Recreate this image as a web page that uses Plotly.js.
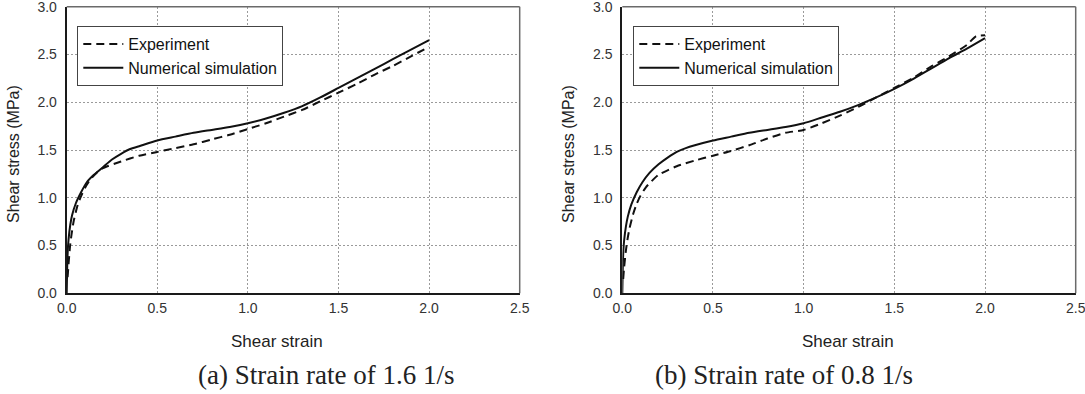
<!DOCTYPE html>
<html>
<head>
<meta charset="utf-8">
<script src="https://cdn.plot.ly/plotly-3.0.1.min.js"></script>
<style>html,body{margin:0;padding:0;background:#fff;}#chart{width:1085px;height:394px;}</style>
</head>
<body>
<div id="chart"></div>
<script>
// (a) Strain rate of 1.6 1/s
const strainSimA = [0, 0.003, 0.006, 0.01, 0.02, 0.03, 0.05, 0.08, 0.11, 0.15, 0.2, 0.25, 0.3, 0.35, 0.4, 0.5, 0.6, 0.7, 0.8, 0.9, 1.0, 1.1, 1.2, 1.3, 1.4, 1.5, 1.6, 1.7, 1.8, 1.9, 2.0];
const stressSimA = [0, 0.3, 0.45, 0.56, 0.72, 0.82, 0.94, 1.06, 1.16, 1.24, 1.32, 1.4, 1.46, 1.51, 1.54, 1.6, 1.64, 1.68, 1.71, 1.74, 1.78, 1.83, 1.89, 1.96, 2.05, 2.15, 2.25, 2.35, 2.45, 2.55, 2.65];
const strainExpA = [0.005, 0.01, 0.015, 0.02, 0.03, 0.04, 0.06, 0.08, 0.1, 0.13, 0.17, 0.2, 0.3, 0.4, 0.5, 0.6, 0.7, 0.8, 0.9, 1.0, 1.1, 1.2, 1.3, 1.4, 1.5, 1.6, 1.7, 1.8, 1.9, 2.0];
const stressExpA = [0.17, 0.3, 0.42, 0.52, 0.66, 0.77, 0.92, 1.02, 1.1, 1.19, 1.27, 1.31, 1.38, 1.44, 1.48, 1.52, 1.56, 1.61, 1.66, 1.72, 1.78, 1.85, 1.92, 2.01, 2.1, 2.19, 2.29, 2.38, 2.48, 2.58];
// (b) Strain rate of 0.8 1/s
const strainSimB = [0, 0.003, 0.006, 0.01, 0.02, 0.03, 0.05, 0.08, 0.11, 0.15, 0.2, 0.25, 0.3, 0.35, 0.4, 0.5, 0.6, 0.7, 0.8, 0.9, 1.0, 1.1, 1.2, 1.3, 1.4, 1.5, 1.6, 1.7, 1.8, 1.9, 2.0];
const stressSimB = [0, 0.3, 0.45, 0.55, 0.7, 0.8, 0.93, 1.06, 1.16, 1.26, 1.35, 1.42, 1.48, 1.52, 1.55, 1.6, 1.64, 1.68, 1.71, 1.74, 1.78, 1.84, 1.9, 1.97, 2.05, 2.14, 2.24, 2.35, 2.46, 2.56, 2.67];
const strainExpB = [0.005, 0.01, 0.02, 0.03, 0.04, 0.06, 0.08, 0.1, 0.13, 0.17, 0.2, 0.3, 0.4, 0.5, 0.6, 0.7, 0.8, 0.9, 1.0, 1.1, 1.2, 1.3, 1.4, 1.5, 1.6, 1.7, 1.8, 1.9, 1.95, 2.0];
const stressExpB = [0.15, 0.27, 0.45, 0.58, 0.68, 0.83, 0.94, 1.02, 1.11, 1.19, 1.24, 1.33, 1.39, 1.44, 1.49, 1.55, 1.62, 1.68, 1.71, 1.78, 1.86, 1.95, 2.05, 2.15, 2.25, 2.37, 2.48, 2.6, 2.69, 2.7];

const seriesNames = ["Experiment", "Numerical simulation"];
const tickValsX = [0, 0.5, 1.0, 1.5, 2.0, 2.5];
const tickValsY = [0, 0.5, 1.0, 1.5, 2.0, 2.5, 3.0];
const xTitle = "Shear strain";
const yTitle = "Shear stress (MPa)";
const captions = ["(a) Strain rate of 1.6 1/s", "(b) Strain rate of 0.8 1/s"];

const W = 1085, H = 394;
const SANS = "'Liberation Sans', Arial, sans-serif";
const SERIF = "'Liberation Serif', 'Times New Roman', serif";

const expLine = {color: '#111', width: 2, dash: '8px,5px', shape: 'spline', smoothing: 0.6};
const simLine = {color: '#111', width: 2, shape: 'spline', smoothing: 0.6};

const traces = [
  {x: strainExpA, y: stressExpA, name: seriesNames[0], mode: 'lines', line: expLine, xaxis: 'x', yaxis: 'y', legend: 'legend'},
  {x: strainSimA, y: stressSimA, name: seriesNames[1], mode: 'lines', line: simLine, xaxis: 'x', yaxis: 'y', legend: 'legend'},
  {x: strainExpB, y: stressExpB, name: seriesNames[0], mode: 'lines', line: expLine, xaxis: 'x2', yaxis: 'y2', legend: 'legend2'},
  {x: strainSimB, y: stressSimB, name: seriesNames[1], mode: 'lines', line: simLine, xaxis: 'x2', yaxis: 'y2', legend: 'legend2'}
];

function xax(domain, anchor) {
  return {
    domain: domain, anchor: anchor, range: [0, 2.5], tickvals: tickValsX, tickformat: '.1f',
    showgrid: true, gridcolor: '#9a9a9a', griddash: '2px,2px', gridwidth: 1,
    showline: true, linecolor: '#1a1a1a', linewidth: 2, zeroline: false,
    ticks: '', ticklabelstandoff: 1, ticklabeloverflow: 'allow',
    tickfont: {family: SANS, size: 14, color: '#333'}, fixedrange: true
  };
}
function yax(domain, anchor) {
  return {
    domain: domain, anchor: anchor, range: [0, 3], tickvals: tickValsY, tickformat: '.1f',
    showgrid: true, gridcolor: '#9a9a9a', griddash: '2px,2px', gridwidth: 1,
    showline: true, linecolor: '#1a1a1a', linewidth: 2, zeroline: false,
    ticks: '', ticklabelstandoff: 5, ticklabeloverflow: 'allow',
    tickfont: {family: SANS, size: 14, color: '#333'}, fixedrange: true
  };
}
const yDom = [(H - 293.3) / H, (H - 6.7) / H];
const border = (xr, yr) => [
  {type: 'line', xref: xr + ' domain', yref: yr + ' domain', x0: 0, x1: 1, y0: 1, y1: 1, line: {color: '#6a6a6a', width: 1.5}},
  {type: 'line', xref: xr + ' domain', yref: yr + ' domain', x0: 1, x1: 1, y0: 0, y1: 1, line: {color: '#6a6a6a', width: 1.5}}
];
const legendStyle = (xpx) => ({
  x: xpx / W, y: 1 - 26 / H, xanchor: 'left', yanchor: 'top',
  bordercolor: '#444', borderwidth: 1, bgcolor: '#fff',
  font: {family: SANS, size: 16, color: '#111'}, itemwidth: 40, tracegroupgap: 0
});
const ann = (text, xpx, ypx, size, family, angle) => ({
  text: text, xref: 'paper', yref: 'paper', x: xpx / W, y: 1 - ypx / H,
  xanchor: 'center', yanchor: 'middle', showarrow: false, textangle: angle || 0,
  font: {family: family, size: size, color: '#222'}
});

const layout = {
  width: W, height: H, margin: {l: 0, r: 0, t: 0, b: 0},
  paper_bgcolor: '#fff', plot_bgcolor: '#fff',
  xaxis: xax([66.7 / W, 519.7 / W], 'y'),
  yaxis: yax(yDom, 'x'),
  xaxis2: xax([622.3 / W, 1075.7 / W], 'y2'),
  yaxis2: yax(yDom, 'x2'),
  legend: legendStyle(77.3),
  legend2: legendStyle(633.3),
  shapes: border('x', 'y').concat(border('x2', 'y2')),
  annotations: [
    ann(xTitle, 277, 341, 17, SANS),
    ann(xTitle, 848, 341, 17, SANS),
    ann(yTitle, 14, 154, 16, SANS, -90),
    ann(yTitle, 569, 154, 16, SANS, -90),
    ann(captions[0], 326, 375, 27, SERIF),
    ann(captions[1], 784, 375, 27, SERIF)
  ],
  showlegend: true
};

Plotly.newPlot('chart', traces, layout, {displayModeBar: false, staticPlot: true});
</script>
</body>
</html>
